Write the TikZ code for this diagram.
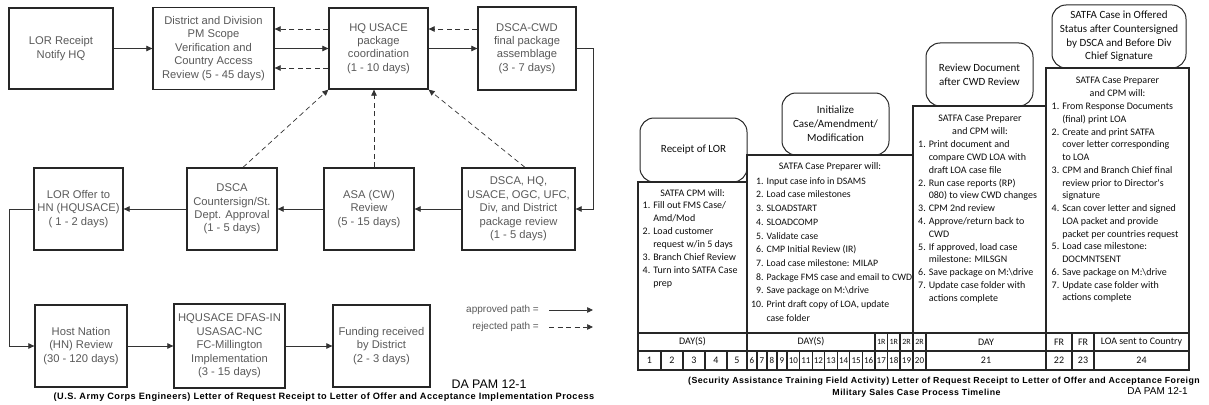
\documentclass[tikz,border=0pt]{standalone}
\usepackage{fontspec}
\usetikzlibrary{arrows.meta}
\newfontfamily\usacefont{Liberation Sans}
\newfontfamily\capfont[LetterSpace=5]{Liberation Sans}
\newfontfamily\satfafont{Carlito}
\tikzset{
    flow/.style={
        stage/.style={draw=black!85, line width=1.3pt, align=center, inner sep=0pt,
            text=black!65, font=\usacefont\fontsize{11.2}{13.4}\selectfont},
        fwd/.style={-{Triangle[length=6pt, width=5.5pt]}, line width=0.7pt, draw=black!80},
        rej/.style={fwd, dash pattern=on 5pt off 3.5pt},
        legend/.style={inner sep=0pt, text=black!65, font=\usacefont\fontsize{10}{12}\selectfont},
    },
    timeline/.style={
        tag/.style={draw=black!85, line width=1pt, rounded corners=14pt, align=center, inner sep=0pt,
            text=black!95, font=\satfafont\fontsize{11}{14}\selectfont},
        lead/.style={align=center, inner sep=0pt, text=black!95, font=\satfafont\fontsize{10}{13}\selectfont},
        steps/.style={anchor=north west, inner sep=0pt, text=black!95},
        cell/.style={inner sep=0pt, text=black!95, font=\satfafont\fontsize{10}{11}\selectfont},
        rtag/.style={cell, font=\satfafont\fontsize{8}{9}\selectfont},
        rim/.style={line width=1.5pt, draw=black!85},
        rule/.style={line width=1.1pt, draw=black!85},
    },
    caption/.style={inner sep=0pt, font=\capfont\bfseries\fontsize{#1}{12}\selectfont},
    pam/.style={inner sep=0pt, font=\usacefont\fontsize{#1}{14}\selectfont},
}

\begin{document}
\begin{tikzpicture}[x=1pt, y=-1pt]
    \useasboundingbox (0,0) rectangle (1209,404);

    % USACE implementation process
    \begin{scope}[flow]
        \node[stage, minimum width=104pt, minimum height=81pt] (lorrec) at (61,48.5) {LOR Receipt\\Notify HQ};
        \node[stage, minimum width=121pt, minimum height=82pt] (distrev) at (213.5,48.5) {District and Division\\PM Scope\\Verification and\\Country Access\\Review (5 - 45 days)};
        \node[stage, minimum width=99pt, minimum height=81pt] (hqpkg) at (378.5,48.5) {HQ USACE\\package\\coordination\\(1 - 10 days)};
        \node[stage, minimum width=98pt, minimum height=83pt] (cwdfin) at (527,48.5) {DSCA-CWD\\final package\\assemblage\\(3 - 7 days)};

        \node[stage, minimum width=89pt, minimum height=82pt] (lorofr) at (78.5,209) {LOR Offer to\\HN (HQUSACE)\\( 1 - 2 days)};
        \node[stage, minimum width=90pt, minimum height=82pt] (cntrsgn) at (232,209) {DSCA\\Countersign/St.\\Dept. Approval\\(1 - 5 days)};
        \node[stage, minimum width=90pt, minimum height=82pt] (asarev) at (369,209) {ASA (CW)\\Review\\(5 - 15 days)};
        \node[stage, minimum width=113pt, minimum height=82pt] (pkgrev) at (518.5,209) {DSCA, HQ,\\USACE, OGC, UFC,\\Div, and District\\package review\\(1 - 5 days)};

        \node[stage, minimum width=92pt, minimum height=82pt] (hnrev) at (81,346) {Host Nation\\(HN) Review\\(30 - 120 days)};
        \node[stage, minimum width=111pt, minimum height=84pt] (dfas) at (229.5,346) {HQUSACE DFAS-IN\\USASAC-NC\\FC-Millington\\Implementation\\(3 - 15 days)};
        \node[stage, minimum width=97pt, minimum height=82pt] (fund) at (381.5,346) {Funding received\\by District\\(2 - 3 days)};

        \draw[fwd] (lorrec) -- (distrev);
        \draw[fwd] (distrev) -- (hqpkg);
        \draw[rej] ([yshift=19.5pt]hqpkg.west) -- ([yshift=19.5pt]distrev.east);
        \draw[rej] ([yshift=-19.5pt]hqpkg.west) -- ([yshift=-19.5pt]distrev.east);
        \draw[fwd] (hqpkg) -- (cwdfin);
        \draw[rej] ([yshift=19.5pt]cwdfin.west) -- ([yshift=19.5pt]hqpkg.east);
        \draw[fwd] (cwdfin.east) -- ++(17,0) |- (pkgrev.east);
        \draw[fwd] (pkgrev) -- (asarev);
        \draw[fwd] (asarev) -- (cntrsgn);
        \draw[fwd] (cntrsgn) -- (lorofr);
        \draw[rej] ([xshift=5pt]asarev.north) -- ([xshift=-4.5pt]hqpkg.south);
        \draw[rej] ([xshift=6.5pt]pkgrev.north) -- (hqpkg.south east);
        \draw[rej] ([xshift=11pt]cntrsgn.north) -- (hqpkg.south west);
        \draw[fwd] (lorofr.west) -- ++(-24,0) |- (hnrev.west);
        \draw[fwd] (hnrev) -- (dfas);
        \draw[fwd] (dfas) -- (fund);

        \node[legend, anchor=east] (aprtxt) at (539,310) {approved path =};
        \node[legend, anchor=east] (rejtxt) at (539,327) {rejected path =};
        \coordinate (aprend) at (593,310);
        \coordinate (rejend) at (593,327);
        \draw[fwd] ([xshift=10pt]aprtxt.east) -- (aprend);
        \draw[rej] ([xshift=10pt]rejtxt.east) -- (rejend);

        \node[pam=12.4] (pamleft) at (489,384) {DA PAM 12-1};
        \node[caption=9.2] (capleft) at (324,397) {(U.S. Army Corps Engineers) Letter of Request Receipt to Letter of Offer and Acceptance Implementation Process};
    \end{scope}

    % SATFA timeline
    \begin{scope}[timeline]
        \draw[rim] (638,182) -- (747,182) -- (747,155) -- (913,155) -- (913,106) -- (1046,106) -- (1046,68) -- (1189,68) -- (1189,370) -- (638,370) -- cycle;
        \draw[rule] (747,182) -- (747,370) (913,155) -- (913,370) (1046,106) -- (1046,370);
        \draw[rule] (638,333) -- (1189,333) (638,351) -- (1189,351);
        \foreach \x in {875,887.5,900,926,1072,1094}
            \draw[rule] (\x,333) -- (\x,351);
        \foreach \x in {661,683,705,727,757,767,777,787,799.6,812.1,824.7,837.3,849.9,862.4,875,887.5,900,926,1072,1094}
            \draw[rule] (\x,351) -- (\x,370);

        \node[tag, minimum width=107pt, minimum height=64pt] (lorin) at (693.5,150) {Receipt of LOR};
        \node[tag, minimum width=107pt, minimum height=62pt] (initcase) at (835.5,124) {Initialize\\Case/Amendment/\\Modification};
        \node[tag, minimum width=107pt, minimum height=63pt] (cwdchk) at (979.5,74.5) {Review Document\\after CWD Review};
        \node[tag, minimum width=134pt, minimum height=63pt, font=\satfafont\fontsize{11}{13.7}\selectfont] (offered) at (1119,36.5) {SATFA Case in Offered\\Status after Countersigned\\by DSCA and Before Div\\Chief Signature};

        \node[lead] (leadA) at (692.5,193) {SATFA CPM will:};
        \node[lead] (leadB) at (830,167) {SATFA Case Preparer will:};
        \node[lead] (leadC) at (980,124.5) {SATFA Case Preparer\\and CPM will:};
        \node[lead] (leadD) at (1117.5,86.5) {SATFA Case Preparer\\and CPM will:};

        \node[steps, font=\satfafont\fontsize{10}{13}\selectfont] (stepsA) at (642.5,199.5) {%
            \begin{tabular}{@{}r@{\hspace{3pt}}l@{}}
                1. & Fill out FMS Case/\\
                   & Amd/Mod\\
                2. & Load customer\\
                   & request w/in 5 days\\
                3. & Branch Chief Review\\
                4. & Turn into SATFA Case\\
                   & prep
            \end{tabular}};
        \node[steps, font=\satfafont\fontsize{9.8}{13.7}\selectfont] (stepsB) at (751,174.5) {%
            \begin{tabular}{@{}r@{\hspace{3pt}}l@{}}
                1.  & Input case info in DSAMS\\
                2.  & Load case milestones\\
                3.  & SLOADSTART\\
                4.  & SLOADCOMP\\
                5.  & Validate case\\
                6.  & CMP Initial Review (IR)\\
                7.  & Load case milestone: MILAP\\
                8.  & Package FMS case and email to CWD\\
                9.  & Save package on M:\textbackslash drive\\
                10. & Print draft copy of LOA, update\\
                    & case folder
            \end{tabular}};
        \node[steps, font=\satfafont\fontsize{10}{12.8}\selectfont] (stepsC) at (918,138.5) {%
            \begin{tabular}{@{}r@{\hspace{3pt}}l@{}}
                1. & Print document and\\
                   & compare CWD LOA with\\
                   & draft LOA case file\\
                2. & Run case reports (RP)\\
                   & 080) to view CWD changes\\
                3. & CPM 2nd review\\
                4. & Approve/return back to\\
                   & CWD\\
                5. & If approved, load case\\
                   & milestone: MILSGN\\
                6. & Save package on M:\textbackslash drive\\
                7. & Update case folder with\\
                   & actions complete
            \end{tabular}};
        \node[steps, font=\satfafont\fontsize{10}{12.75}\selectfont] (stepsD) at (1051.5,100.5) {%
            \begin{tabular}{@{}r@{\hspace{3pt}}l@{}}
                1. & From Response Documents\\
                   & (final) print LOA\\
                2. & Create and print SATFA\\
                   & cover letter corresponding\\
                   & to LOA\\
                3. & CPM and Branch Chief final\\
                   & review prior to Director's\\
                   & signature\\
                4. & Scan cover letter and signed\\
                   & LOA packet and provide\\
                   & packet per countries request\\
                5. & Load case milestone:\\
                   & DOCMNTSENT\\
                6. & Save package on M:\textbackslash drive\\
                7. & Update case folder with\\
                   & actions complete
            \end{tabular}};

        \node[cell] (dayA) at (692.5,342) {DAY(S)};
        \node[cell] (dayB) at (811,342) {DAY(S)};
        \node[rtag] (rA) at (881.25,342) {1R};
        \node[rtag] (rB) at (893.75,342) {1R};
        \node[rtag] (rC) at (906.5,342) {2R};
        \node[rtag] (rD) at (919.5,342) {2R};
        \node[cell] (dayC) at (986,342) {DAY};
        \node[cell] (frA) at (1059,342) {FR};
        \node[cell] (frB) at (1083,342) {FR};
        \node[cell] (sent) at (1141.5,342) {LOA sent to Country};

        \foreach \x/\n in {649.5/1, 672/2, 694/3, 716/4, 737/5, 986/21, 1059/22, 1083/23, 1141.5/24}
            \node[cell] (num\n) at (\x,360.5) {\n};
        \foreach \x/\n in {752/6, 762/7, 772/8, 782/9, 793.3/10, 805.9/11, 818.4/12, 831/13, 843.6/14, 856.2/15, 868.7/16, 881.25/17, 893.75/18, 906.5/19, 919.5/20}
            \node[cell, font=\satfafont\fontsize{9}{10}\selectfont] (num\n) at (\x,360.5) {\n};

        \node[caption=8.8] (capright) at (944,381) {(Security Assistance Training Field Activity) Letter of Request Receipt to Letter of Offer and Acceptance Foreign};
        \node[caption=8.8] (capright2) at (916.5,393) {Military Sales Case Process Timeline};
        \node[pam=10] (pamright) at (1157.5,391) {DA PAM 12-1};
    \end{scope}
\end{tikzpicture}
\end{document}
